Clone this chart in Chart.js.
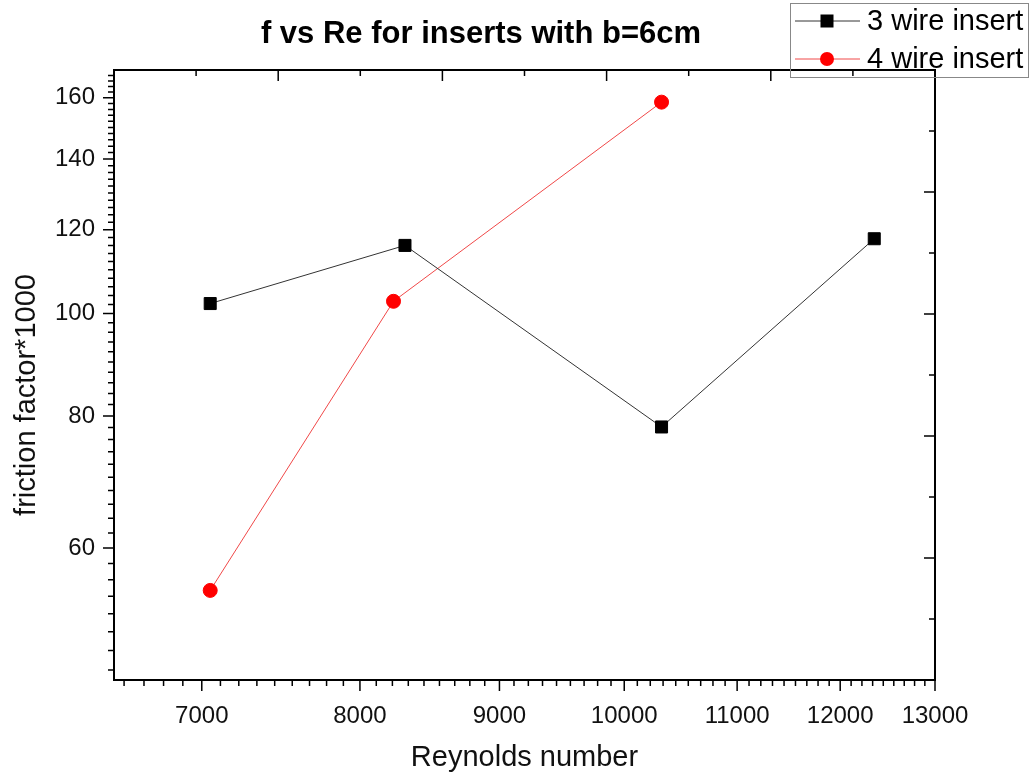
<!DOCTYPE html>
<html>
<head>
<meta charset="utf-8">
<title>f vs Re</title>
<script src="https://cdn.jsdelivr.net/npm/chart.js@4.4.1/dist/chart.umd.min.js"></script>
<style>
  body { margin: 0; background: #fff; }
</style>
</head>
<body>
<canvas id="chart" width="1032" height="775"></canvas>
<script>
const chartTitle = 'f vs Re for inserts with b=6cm';
const xTitle = 'Reynolds number';
const yTitle = 'friction factor*1000';
const seriesNames = ['3 wire insert', '4 wire insert'];
const re3 = [7050, 8310, 10320, 12350];
const f3 = [102.2, 116.0, 78.1, 117.7];
const re4 = [7050, 8230, 10320];
const f4 = [54.7, 102.7, 158.5];
const xTicks = [7000, 8000, 9000, 10000, 11000, 12000, 13000];
const yTicks = [60, 80, 100, 120, 140, 160];

const FONT = "'Liberation Sans', Arial, sans-serif";

// minor ticks: 8 between x majors (plus a few below 7000), every 2 on y
const xMinor = [];
for (let k = 1; k <= 4; k++) xMinor.push(xTicks[0] - k * 1000 / 9);
for (let i = 0; i < xTicks.length - 1; i++)
  for (let k = 1; k <= 8; k++) xMinor.push(xTicks[i] + k * (xTicks[i + 1] - xTicks[i]) / 9);
const yMinor = [];
for (let v = 46; v < 170; v += 2) if (v % 20) yMinor.push(v);

// frame round the plot, outward ticks left/bottom, inward ticks top/right
const axisFrame = {
  id: 'axisFrame',
  afterDatasetsDraw(chart) {
    const {ctx, chartArea: a} = chart;
    const sx = chart.scales.x, sy = chart.scales.y;
    const tick = (x1, y1, x2, y2) => { ctx.moveTo(x1, y1); ctx.lineTo(x2, y2); };
    ctx.save();
    ctx.strokeStyle = '#000';
    ctx.lineWidth = 1.5;
    ctx.beginPath();
    xTicks.forEach(v => { const p = sx.getPixelForValue(v); tick(p, a.bottom, p, a.bottom + 11); });
    xMinor.forEach(v => { const p = sx.getPixelForValue(v); tick(p, a.bottom, p, a.bottom + 6); });
    yTicks.forEach(v => { const p = sy.getPixelForValue(v); tick(a.left, p, a.left - 11, p); });
    yMinor.forEach(v => { const p = sy.getPixelForValue(v); tick(a.left, p, a.left - 6, p); });
    for (let i = 1; i < 10; i++) {
      const len = i % 2 ? 6 : 11;
      const px = a.left + (a.right - a.left) * i / 10;
      tick(px, a.top, px, a.top + len);
      const py = a.bottom - (a.bottom - a.top) * i / 10;
      tick(a.right, py, a.right - len, py);
    }
    ctx.stroke();
    ctx.lineWidth = 2;
    ctx.strokeRect(a.left, a.top, a.right - a.left, a.bottom - a.top);
    ctx.restore();
  }
};

// boxed legend in the top right corner
const boxLegend = {
  id: 'boxLegend',
  afterDraw(chart) {
    const ctx = chart.ctx;
    const left = 790, top = 3, w = 238, h = 74;
    ctx.save();
    ctx.strokeStyle = '#888';
    ctx.lineWidth = 1;
    ctx.strokeRect(left + 0.5, top + 0.5, w, h);
    ctx.font = '29px ' + FONT;
    ctx.textBaseline = 'middle';
    chart.data.datasets.forEach((ds, i) => {
      const yy = top + 18 + i * 38;
      const cx = left + 37;
      ctx.strokeStyle = ds.borderColor;
      ctx.lineWidth = ds.borderWidth;
      ctx.beginPath();
      ctx.moveTo(left + 5, yy);
      ctx.lineTo(left + 70, yy);
      ctx.stroke();
      ctx.fillStyle = ds.pointBackgroundColor;
      if (ds.pointStyle === 'rect') {
        ctx.fillRect(cx - 6.5, yy - 6.5, 13, 13);
      } else {
        ctx.beginPath();
        ctx.arc(cx, yy, ds.pointRadius, 0, Math.PI * 2);
        ctx.fill();
      }
      ctx.fillStyle = '#000';
      ctx.fillText(ds.label, left + 77, yy + 1);
    });
    ctx.restore();
  }
};

// chart title and rotated y axis title
const titleText = {
  id: 'titleText',
  afterDraw(chart) {
    const ctx = chart.ctx;
    ctx.save();
    ctx.textAlign = 'center';
    ctx.textBaseline = 'middle';
    ctx.fillStyle = '#000';
    ctx.font = 'bold 31px ' + FONT;
    ctx.fillText(chartTitle, 481, 34);
    ctx.fillStyle = '#111';
    ctx.font = '29px ' + FONT;
    ctx.translate(27, 395);
    ctx.rotate(-Math.PI / 2);
    ctx.fillText(yTitle, 0, 0);
    ctx.restore();
  }
};

new Chart(document.getElementById('chart'), {
  type: 'line',
  data: {
    datasets: [{
      label: seriesNames[0],
      data: re3.map((r, i) => ({x: r, y: f3[i]})),
      borderColor: '#333',
      borderWidth: 1,
      pointStyle: 'rect',
      pointRadius: 8.5,
      pointBackgroundColor: '#000',
      pointBorderColor: '#000',
      pointBorderWidth: 1
    }, {
      label: seriesNames[1],
      data: re4.map((r, i) => ({x: r, y: f4[i]})),
      borderColor: '#f04848',
      borderWidth: 1,
      pointStyle: 'circle',
      pointRadius: 7,
      pointBackgroundColor: '#ff0000',
      pointBorderColor: '#ff0000',
      pointBorderWidth: 1
    }]
  },
  options: {
    responsive: false,
    animation: false,
    layout: {padding: {top: 70, right: 97, left: 0, bottom: 0}},
    plugins: {
      legend: {display: false},
      title: {display: false},
      tooltip: {enabled: false}
    },
    scales: {
      x: {
        type: 'logarithmic',
        min: 6500,
        max: 13000,
        afterBuildTicks: s => { s.ticks = xTicks.map(v => ({value: v})); },
        afterFit: s => { s.height = 95; },
        grid: {display: false, drawTicks: false},
        border: {display: false},
        ticks: {
          autoSkip: false, maxRotation: 0, padding: 22, color: '#111',
          font: {family: FONT, size: 24},
          callback: v => String(v)
        },
        title: {
          display: true, text: xTitle, color: '#111',
          font: {family: FONT, size: 29}, padding: {bottom: 0}
        }
      },
      y: {
        type: 'logarithmic',
        min: 45,
        max: 170,
        afterBuildTicks: s => { s.ticks = yTicks.map(v => ({value: v})); },
        afterFit: s => { s.width = 114; },
        grid: {display: false, drawTicks: false},
        border: {display: false},
        ticks: {
          autoSkip: false, padding: 19, color: '#111',
          font: {family: FONT, size: 24},
          callback: v => String(v)
        }
      }
    }
  },
  plugins: [axisFrame, boxLegend, titleText]
});
</script>
</body>
</html>
